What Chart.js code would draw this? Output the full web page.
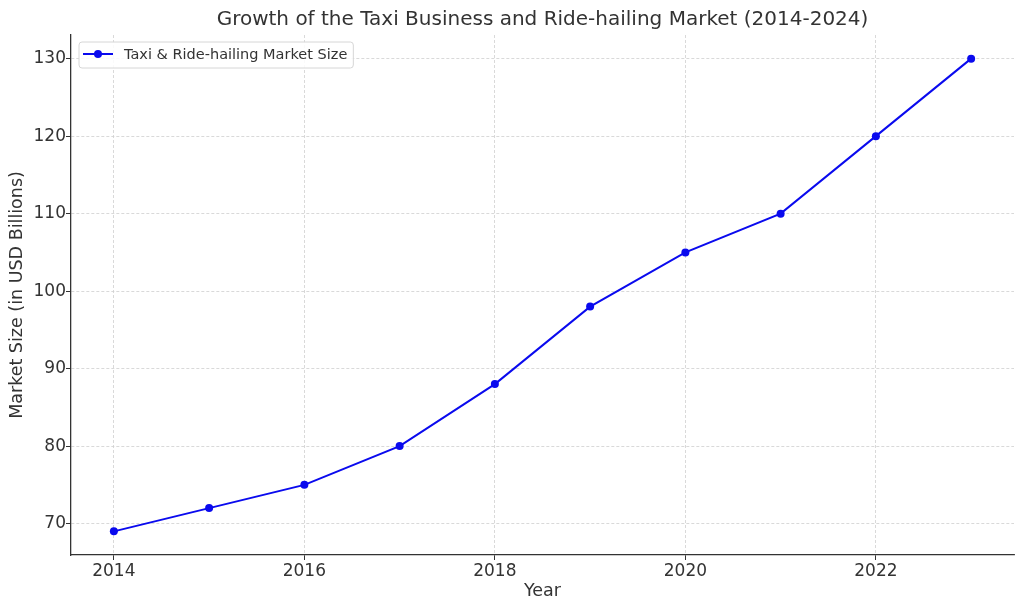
<!DOCTYPE html>
<html>
<head>
<meta charset="utf-8">
<script src="https://cdn.jsdelivr.net/npm/chart.js@4"></script>
<style>
  html, body { margin: 0; padding: 0; background: #fff; }
  #wrap { width: 1024px; height: 611px; }
</style>
</head>
<body>
<div id="wrap"><canvas id="marketChart" width="1024" height="611"></canvas></div>
<script>
// data
const years = [2014, 2015, 2016, 2017, 2018, 2019, 2020, 2021, 2022, 2023];
const marketSize = [69, 72, 75, 80, 88, 98, 105, 110, 120, 130];
const xTicks = [2014, 2016, 2018, 2020, 2022];
const yTicks = [70, 80, 90, 100, 110, 120, 130];
const seriesLabel = "Taxi & Ride-hailing Market Size";

const FONT = "'DejaVu Sans', sans-serif";
const textColor = "#333333";
const lineBlue = "#0a0aee";

// legend drawn inside the plot area, matplotlib style
const insideLegend = {
  id: "insideLegend",
  afterDraw(chart) {
    const ctx = chart.ctx;
    const area = chart.chartArea;
    const x = area.left + 8;
    const y = area.top + 7;
    ctx.save();
    ctx.font = "14.5px " + FONT;
    const tw = ctx.measureText(seriesLabel).width;
    const w = 45 + tw + 6;
    const h = 26;
    ctx.beginPath();
    ctx.roundRect(x, y, w, h, 3);
    ctx.fillStyle = "rgba(255,255,255,0.85)";
    ctx.fill();
    ctx.strokeStyle = "#d6d6d6";
    ctx.lineWidth = 1;
    ctx.stroke();
    // sample line + marker
    const my = y + h / 2 - 1;
    ctx.beginPath();
    ctx.moveTo(x + 4, my);
    ctx.lineTo(x + 34, my);
    ctx.strokeStyle = lineBlue;
    ctx.lineWidth = 2;
    ctx.stroke();
    ctx.beginPath();
    ctx.arc(x + 19, my, 4, 0, Math.PI * 2);
    ctx.fillStyle = lineBlue;
    ctx.fill();
    ctx.fillStyle = textColor;
    ctx.textBaseline = "middle";
    ctx.fillText(seriesLabel, x + 45, my + 1);
    ctx.restore();
  }
};

const ctx = document.getElementById("marketChart").getContext("2d");
new Chart(ctx, {
  type: "line",
  data: {
    datasets: [
      {
        label: seriesLabel,
        data: years.map((yr, i) => ({ x: yr, y: marketSize[i] })),
        borderColor: lineBlue,
        backgroundColor: lineBlue,
        borderWidth: 2,
        pointRadius: 4,
        pointBackgroundColor: lineBlue,
        pointBorderColor: lineBlue,
        pointBorderWidth: 0,
        tension: 0,
        fill: false,
      },
    ],
  },
  options: {
    responsive: false,
    animation: false,
    devicePixelRatio: 1,
    layout: { padding: { left: 0, right: 10, top: 0, bottom: 0 } },
    plugins: {
      legend: { display: false },
      tooltip: { enabled: false },
      title: {
        display: true,
        fullSize: false,
        text: "Growth of the Taxi Business and Ride-hailing Market (2014-2024)",
        color: textColor,
        font: { family: FONT, size: 20, weight: "normal" },
        padding: { top: 8, bottom: 3 },
      },
    },
    scales: {
      x: {
        type: "linear",
        min: 2013.55,
        max: 2023.45,
        afterBuildTicks: (scale) => {
          scale.ticks = xTicks.map((v) => ({ value: v }));
        },
        afterFit: (scale) => {
          scale.height = 56;
        },
        ticks: {
          color: textColor,
          font: { family: FONT, size: 17 },
          padding: 1,
          callback: (v) => String(v),
        },
        grid: {
          color: "#cfcfcf",
          lineWidth: 0.8,
          tickColor: "#333333",
          tickLength: 5,
          tickWidth: 1,
          tickBorderDash: [],
        },
        border: { display: true, color: "#333333", width: 1.3, dash: [3, 2] },
        title: {
          display: true,
          text: "Year",
          color: textColor,
          font: { family: FONT, size: 17.5 },
          padding: { top: 9, bottom: 9 },
        },
      },
      y: {
        min: 65.95,
        max: 133.05,
        afterBuildTicks: (scale) => {
          scale.ticks = yTicks.map((v) => ({ value: v }));
        },
        afterFit: (scale) => {
          scale.width = 71;
        },
        ticks: {
          color: textColor,
          font: { family: FONT, size: 17 },
          padding: 0,
        },
        grid: {
          color: "#cfcfcf",
          lineWidth: 0.8,
          tickColor: "#333333",
          tickLength: 5,
          tickWidth: 1,
          tickBorderDash: [],
        },
        border: { display: true, color: "#333333", width: 1.3, dash: [3, 2] },
        title: {
          display: true,
          text: "Market Size (in USD Billions)",
          color: textColor,
          font: { family: FONT, size: 17.5 },
          padding: { top: 7, bottom: 7 },
        },
      },
    },
  },
  plugins: [insideLegend],
});
</script>
</body>
</html>
